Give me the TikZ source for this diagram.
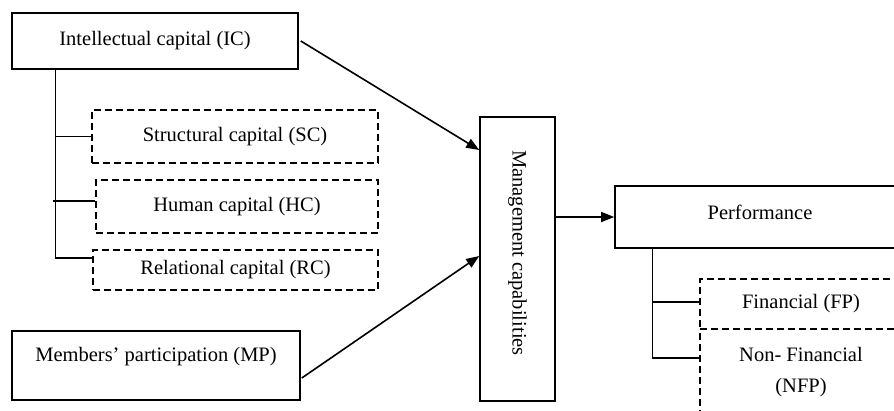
\documentclass[tikz,border=0pt]{standalone}
\usepackage{fontspec}
\setmainfont{Liberation Serif}
\usetikzlibrary{arrows.meta}
\begin{document}
\begin{tikzpicture}[x=1pt,y=-1pt,
  every node/.style={font=\fontsize{20.5}{31}\selectfont, inner sep=0pt},
  solidbox/.style={draw, line width=1.6pt, minimum width=#1, fill=none},
  dashbox/.style={draw, line width=1.5pt, dash pattern=on 7pt off 4pt, minimum width=#1},
  treeline/.style={line width=1.3pt},
  arr/.style={line width=1.6pt, -{Triangle[length=13pt,width=10pt]}}
]
\useasboundingbox (0,0) rectangle (894,410);
\clip (0,0) rectangle (894,410);
% left boxes
\node[solidbox=286pt, minimum height=56pt] (IC) at (155,41) {Intellectual capital (IC)};
\node[dashbox=286pt, minimum height=53pt] (SC) at (235,136.5) {Structural capital (SC)};
\node[dashbox=282pt, minimum height=53pt] (HC) at (237,206.5) {Human capital (HC)};
\node[dashbox=285pt, minimum height=40pt] (RC) at (235.5,270) {Relational capital (RC)};
\node[solidbox=288pt, minimum height=69pt, label={[yshift=9pt]center:Members' participation (MP)}] (MP) at (156,365.5) {};
% middle
\node[solidbox=75pt, minimum height=284pt, label={[yshift=6pt, rotate=-90]center:Management capabilities}] (MC) at (517.5,259) {};
% right
\node[solidbox=290pt, minimum height=62pt, label={[yshift=5pt]center:Performance}] (PF) at (760,217) {};
\node[dashbox=202pt, minimum height=50pt] (FP) at (801,304) {Financial (FP)};
\node[dashbox=202pt, minimum height=87pt, align=center] (NFP) at (801,372.5) {Non- Financial\\(NFP)};
% trees
\draw[treeline] ([xshift=44pt]IC.south west) |- ([yshift=12pt]RC.west);
\draw[treeline] ([xshift=44pt]IC.south west |- SC.west) -- (SC.west);
\draw[treeline] ([xshift=42pt,yshift=5.5pt]IC.south west |- HC.west) -- ([yshift=5.5pt]HC.west);
\draw[treeline] ([xshift=38pt]PF.south west) |- ([yshift=14.5pt]NFP.west);
\draw[treeline] ([xshift=38pt,yshift=2pt]PF.south west |- FP.west) -- ([yshift=2pt]FP.west);
% arrows
\draw[arr] ([xshift=2pt]IC.east) -- ([yshift=109pt]MC.west);
\draw[arr] ([yshift=-12.5pt,xshift=1pt]MP.east) -- ([yshift=3pt]MC.west);
\draw[arr] (MC.east |- PF.west) -- (PF.west);
\end{tikzpicture}
\end{document}
